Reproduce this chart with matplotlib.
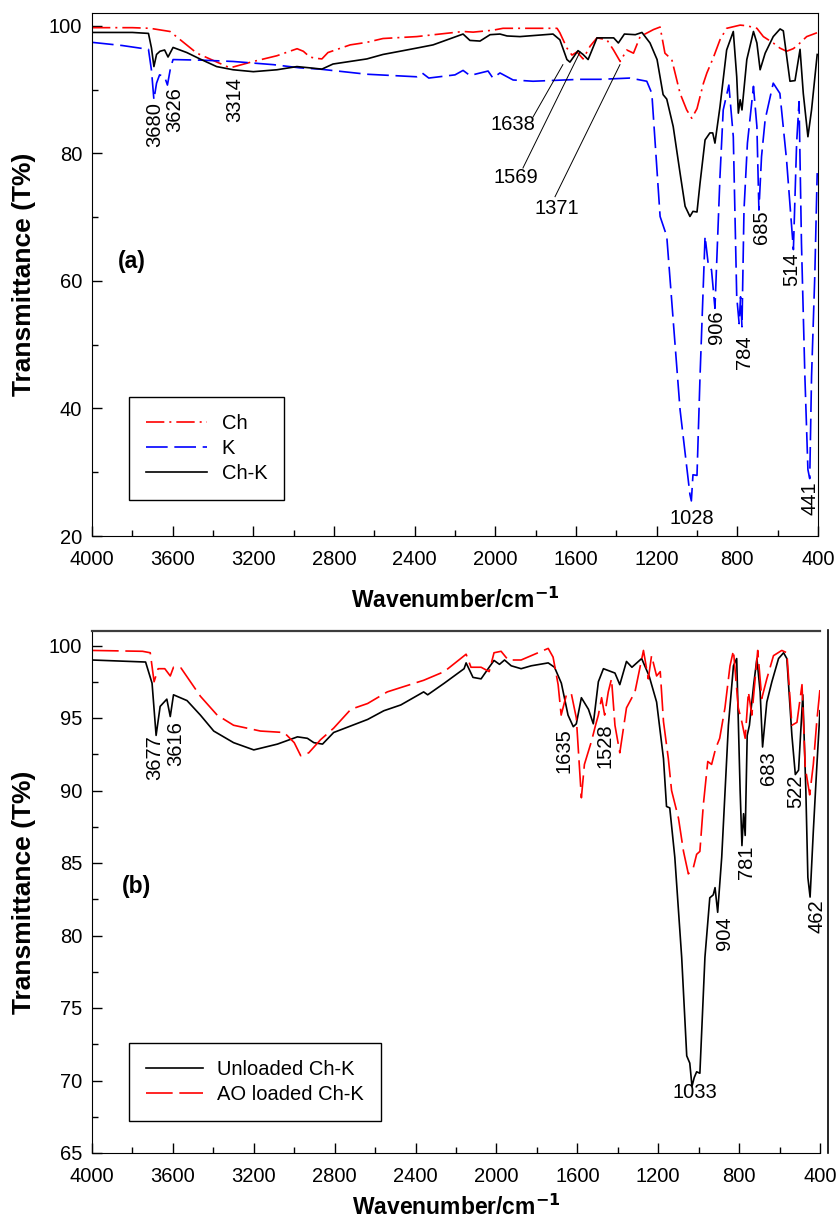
import matplotlib
matplotlib.use("Agg")
import matplotlib.pyplot as plt
from matplotlib.lines import Line2D
import numpy as np

plt.rcParams["font.family"] = ["Liberation Sans", "DejaVu Sans"]

# ---- panel (a) data: wavenumber (cm-1), transmittance (%) ----
ch_wn = [4000, 3800, 3712, 3613, 3480, 3316, 3200, 3083, 2983, 2952, 2920, 2890,
         2860, 2830, 2720, 2637, 2557, 2390, 2160, 2110, 2012, 1962, 1694, 1680,
         1645, 1620, 1595, 1565, 1530, 1496, 1447, 1414, 1381, 1348, 1315, 1282,
         1216, 1183, 1159, 1125, 1084, 1051, 1026, 1000, 968, 951, 919, 886, 853,
         786, 753, 703, 671, 622, 589, 556, 523, 506, 473, 456, 405]
ch_t = [99.7, 99.7, 99.6, 99.1, 95.7, 93.4, 94.4, 95.3, 96.4, 96.0, 95.1, 94.9,
        94.8, 95.8, 97.0, 97.4, 98.0, 98.3, 99.1, 99.0, 99.3, 99.6, 99.6, 98.9,
        96.5, 95.4, 95.9, 94.8, 96.8, 98.1, 97.8, 96.2, 94.4, 96.2, 95.7, 98.3,
        99.4, 99.8, 95.7, 94.7, 89.4, 86.8, 85.5, 87.0, 91.0, 92.6, 95.0, 97.8, 99.6,
        100.1, 100.0, 99.6, 98.3, 97.3, 96.5, 96.0, 96.4, 96.8, 97.8, 98.3, 98.9]

k_wn = [4000, 3850, 3720, 3705, 3693, 3680, 3665, 3640, 3626, 3610, 3598, 3450,
        3300, 3100, 2969, 2870, 2637, 2390, 2363, 2330, 2200, 2160, 2126, 2036,
        2012, 1977, 1912, 1813, 1580, 1480, 1332, 1249, 1224, 1183, 1150, 1084,
        1035, 1028, 1020, 1000, 985, 960, 945, 928, 911, 886, 870, 842, 820, 803,
        791, 784, 777, 767, 750, 720, 703, 693, 680, 662, 622, 589, 556, 522, 506,
        494, 482, 465, 450, 441, 432, 416, 404]
k_t = [97.4, 96.9, 96.3, 93.0, 88.4, 91.0, 92.3, 92.0, 90.7, 93.5, 94.7, 94.6,
       94.4, 93.9, 93.4, 93.2, 92.4, 92.0, 92.6, 91.8, 92.3, 93.0, 92.2, 92.9,
       91.8, 92.6, 91.5, 91.3, 91.6, 91.6, 91.8, 91.3, 89.4, 70.1, 67.0, 39.8,
       26.5, 25.5, 29.6, 29.5, 45.0, 67.0, 62.8, 61.7, 55.7, 76.4, 86.8, 90.7, 82.6, 57.5,
       53.3, 57.5, 52.8, 71.1, 81.6, 90.5, 84.2, 71.1, 79.5, 85.3, 91.0, 89.4, 79.0, 64.9, 81.6,
       88.1, 65.9, 45.0, 30.4, 29.0, 45.0, 60.7, 76.9]

chk_wn = [4000, 3800, 3720, 3705, 3693, 3680, 3663, 3640, 3623, 3598, 3530, 3465,
          3382, 3300, 3200, 3083, 2984, 2920, 2860, 2805, 2637, 2557, 2473, 2390,
          2309, 2160, 2126, 2076, 2026, 1977, 1942, 1878, 1714, 1680, 1645, 1630,
          1590, 1565, 1540, 1496, 1447, 1413, 1390, 1360, 1306, 1273, 1233, 1198,
          1168, 1150, 1118, 1084, 1059, 1035, 1020, 1000, 985, 960, 936, 922, 911,
          886, 853, 820, 803, 795, 786, 777, 753, 720, 703, 687, 662, 622, 588, 572,
          539, 514, 489, 473, 450, 432, 404]
chk_t = [98.95, 98.95, 98.8, 96.5, 93.6, 95.5, 96.0, 96.2, 95.1, 96.6, 95.8, 94.8,
         93.6, 93.1, 92.8, 93.1, 93.6, 93.4, 93.2, 94.0, 94.8, 95.5, 96.0, 96.5,
         97.0, 98.7, 97.7, 97.6, 98.6, 98.7, 98.4, 98.3, 98.7, 97.8, 94.7, 94.3,
         96.1, 95.5, 94.7, 98.1, 98.1, 98.1, 97.3, 98.7, 98.6, 98.95, 97.3, 94.7,
         89.2, 88.5, 84.2, 76.9, 71.7, 70.1, 70.9, 70.8, 75.3, 82.1, 83.2, 83.2, 81.6,
         87.3, 96.2, 99.1, 92.0, 86.3, 88.4, 86.8, 94.7, 99.1, 97.3, 93.1, 95.7, 98.3, 99.5, 99.2,
         91.3, 91.4, 96.3, 89.4, 82.6, 86.8, 95.5]

# ---- panel (b) data ----
unl_wn = [4000, 3735, 3703, 3683, 3663, 3630, 3613, 3597, 3530, 3464, 3398, 3300,
          3200, 3083, 2984, 2935, 2903, 2860, 2805, 2637, 2557, 2473, 2360, 2340,
          2258, 2160, 2150, 2116, 2076, 2036, 2012, 1985, 1960, 1927, 1878, 1828,
          1744, 1713, 1679, 1646, 1620, 1605, 1580, 1545, 1521, 1496, 1471, 1414,
          1390, 1357, 1330, 1282, 1245, 1208, 1174, 1159, 1143, 1118, 1084, 1059,
          1044, 1033, 1022, 1010, 994, 969, 945, 928, 919, 906, 886, 853, 828, 812,
          795, 786, 778, 770, 760, 749, 728, 712, 696, 684, 663, 638, 605, 580, 564,
          539, 522, 506, 485, 470, 460, 449, 433, 416, 400]
unl_t = [99.0, 98.86, 97.4, 93.8, 95.8, 96.3, 95.1, 96.6, 96.2, 95.2, 94.1, 93.3,
         92.8, 93.2, 93.7, 93.6, 93.3, 93.2, 94.0, 94.9, 95.5, 95.9, 96.8, 96.6,
         97.4, 98.4, 98.8, 97.8, 97.7, 98.5, 98.97, 98.7, 99.0, 98.6, 98.4, 98.6,
         98.8, 98.5, 97.4, 95.2, 94.4, 94.6, 96.4, 95.6, 94.6, 97.5, 98.4, 98.1,
         97.3, 98.9, 98.5, 99.1, 97.9, 96.1, 92.2, 88.9, 88.8, 85.4, 78.5, 71.7,
         71.2, 69.6, 70.2, 70.6, 70.5, 78.5, 82.6, 82.8, 83.3, 81.6, 85.4, 94.5, 98.6, 99.1,
         90.0, 86.2, 88.4, 86.9, 93.8, 94.5, 97.3, 99.1, 96.8, 93.0, 96.1, 97.5, 99.1, 99.5, 99.1,
         93.8, 91.1, 91.4, 96.6, 90.0, 84.0, 82.65, 87.2, 91.6, 95.5]

ao_wn = [4000, 3750, 3712, 3693, 3673, 3640, 3613, 3597, 3560, 3464, 3381, 3300,
         3167, 3050, 3000, 2968, 2928, 2870, 2805, 2720, 2637, 2540, 2473, 2360,
         2258, 2150, 2126, 2076, 2036, 2012, 1977, 1942, 1878, 1744, 1720, 1695,
         1680, 1654, 1630, 1605, 1580, 1565, 1530, 1510, 1496, 1480, 1465, 1447,
         1431, 1414, 1390, 1357, 1315, 1273, 1249, 1233, 1208, 1190, 1174, 1150,
         1134, 1100, 1075, 1051, 1026, 1010, 994, 977, 955, 936, 916, 896, 870, 845,
         828, 804, 786, 770, 754, 737, 708, 688, 663, 630, 589, 564, 539, 514, 489,
         473, 451, 433, 416, 400]
ao_t = [99.66, 99.6, 99.5, 97.5, 98.4, 98.4, 97.9, 98.5, 98.45, 96.5, 95.2, 94.5,
        94.1, 94.0, 93.3, 92.4, 92.6, 93.5, 94.3, 95.6, 96.0, 96.8, 97.1, 97.6,
        98.2, 99.4, 98.5, 98.5, 98.2, 99.5, 99.6, 99.0, 99.0, 99.8, 99.2, 97.3,
        95.2, 96.6, 96.7, 95.0, 89.5, 91.8, 93.4, 94.5, 95.2, 96.4, 95.2, 96.8,
        97.7, 94.5, 92.6, 95.7, 96.8, 99.66, 97.7, 99.3, 97.9, 98.2, 94.75, 92.2,
        90.0, 88.1, 85.8, 84.25, 84.7, 85.6, 85.8, 89.0, 92.0, 91.8, 92.9, 93.6, 95.7, 98.6,
        99.66, 95.7, 94.7, 93.6, 96.8, 95.2, 99.66, 96.35, 97.7, 99.3, 99.66, 99.5, 94.5, 94.7, 97.3,
        91.6, 89.7, 91.8, 94.75, 97.0]

# peak labels: (text, wavenumber, transmittance of the label's top)
a_peaks = [("3680", 3688, 88.0), ("3626", 3590, 90.3), ("3314", 3291, 92.0),
           ("906", 901, 55.4), ("784", 762, 51.5), ("685", 678, 71.1),
           ("514", 529, 64.4), ("441", 440, 28.5)]
a_leaders = [("1638", 1912, 84.5, 1813, 85.7, 1665, 93.9),
             ("1569", 1897, 76.2, 1863, 77.7, 1580, 95.9),
             ("1371", 1694, 71.4, 1704, 73.2, 1382, 93.9)]
b_peaks = [("3677", 3688, 93.8), ("3616", 3588, 94.8), ("1635", 1664, 94.3),
           ("1528", 1461, 94.6), ("904", 871, 81.3), ("781", 762, 86.2),
           ("683", 653, 92.7), ("522", 520, 91.1), ("462", 415, 82.5)]

W, H = 837, 1220
fig = plt.figure(figsize=(W / 100, H / 100), dpi=100)


def px_axes(x0, y0, x1, y1):
    return fig.add_axes([x0 / W, 1 - y1 / H, (x1 - x0) / W, (y1 - y0) / H])


def style_axis(ax, ymaj, ymin):
    ax.set_xlim(4000, 400)
    ax.set_xticks(np.arange(4000, 399, -400))
    ax.set_xticks(np.arange(3800, 399, -400), minor=True)
    ax.set_yticks(ymaj)
    ax.set_yticks(ymin, minor=True)
    ax.tick_params(which="both", direction="in", labelsize=14.5)
    ax.tick_params(which="major", length=7, width=1)
    ax.tick_params(which="minor", length=4, width=1)
    ax.tick_params(axis="x", pad=10)
    ax.tick_params(axis="y", pad=7)
    ax.set_xlabel("Wavenumber/cm$^{\\mathbf{-1}}$", fontsize=16.5, fontweight="bold")
    ax.set_ylabel("Transmittance (T%)", fontsize=19, fontweight="bold")
    ax.yaxis.set_label_coords(-0.077, 0.5)


# ---------- panel (a) ----------
ax1 = px_axes(92, 13, 818, 536)
ax1.plot(ch_wn, ch_t, color="red", lw=1.2, dashes=(11, 3, 1.2, 3), label="Ch")
ax1.plot(k_wn, k_t, color="blue", lw=1.2, dashes=(13, 4), label="K")
ax1.plot(chk_wn, chk_t, color="black", lw=1.2, label="Ch-K")
ax1.set_ylim(20, 102)
style_axis(ax1, np.arange(20, 101, 20), np.arange(30, 101, 20))
ax1.xaxis.set_label_coords(0.5, -0.098)

for txt, x, y in a_peaks:
    ax1.text(x, y, txt, rotation=90, ha="center", va="top", fontsize=14.5)
for txt, tx, ty, x0, y0, x1, y1 in a_leaders:
    ax1.text(tx, ty, txt, ha="center", va="center", fontsize=14.5)
    ax1.plot([x0, x1], [y0, y1], color="black", lw=0.7)
ax1.text(1025, 22.8, "1028", ha="center", va="center", fontsize=14.5)
ax1.text(3802, 63.0, "(a)", ha="center", va="center", fontsize=16.5, fontweight="bold")

leg1 = ax1.legend(loc="lower left", bbox_to_anchor=(0.051, 0.069), fontsize=14.5,
                  handlelength=3.0, handletextpad=0.75, labelspacing=0.3,
                  borderpad=0.85, borderaxespad=0, fancybox=False, framealpha=1,
                  edgecolor="black")
leg1.get_frame().set_linewidth(1.0)

# ---------- panel (b) ----------
ax2 = px_axes(92, 631, 820, 1153)
ax2.plot(unl_wn, unl_t, color="black", lw=1.2, label="Unloaded Ch-K")
ax2.plot(ao_wn, ao_t, color="red", lw=1.2, dashes=(16, 4), label="AO loaded Ch-K")
ax2.set_ylim(65, 101)
style_axis(ax2, np.arange(65, 101, 5), np.arange(67.5, 101, 5))
ax2.xaxis.set_label_coords(0.5, -0.079)
ax2.spines["right"].set_visible(False)
ax2.spines["top"].set_color("#3c3c3c")
ax2.spines["top"].set_linewidth(1.6)

for txt, x, y in b_peaks:
    ax2.text(x, y, txt, rotation=90, ha="center", va="top", fontsize=14.5)
ax2.text(1020, 69.2, "1033", ha="center", va="center", fontsize=14.5)
ax2.text(3782, 83.4, "(b)", ha="center", va="center", fontsize=16.5, fontweight="bold")

leg2 = ax2.legend(loc="lower left", bbox_to_anchor=(0.051, 0.061), fontsize=14.5,
                  handlelength=2.8, handletextpad=0.7, labelspacing=0.3,
                  borderpad=0.85, borderaxespad=0, fancybox=False, framealpha=1,
                  edgecolor="black")
leg2.get_frame().set_linewidth(1.0)

# detached right-hand frame line of panel (b)
fig.add_artist(Line2D([828 / W, 828 / W], [1 - 630 / H, 1 - 1153 / H],
                      transform=fig.transFigure, color="black", lw=1.2))

fig.savefig("out.png", dpi=100)
